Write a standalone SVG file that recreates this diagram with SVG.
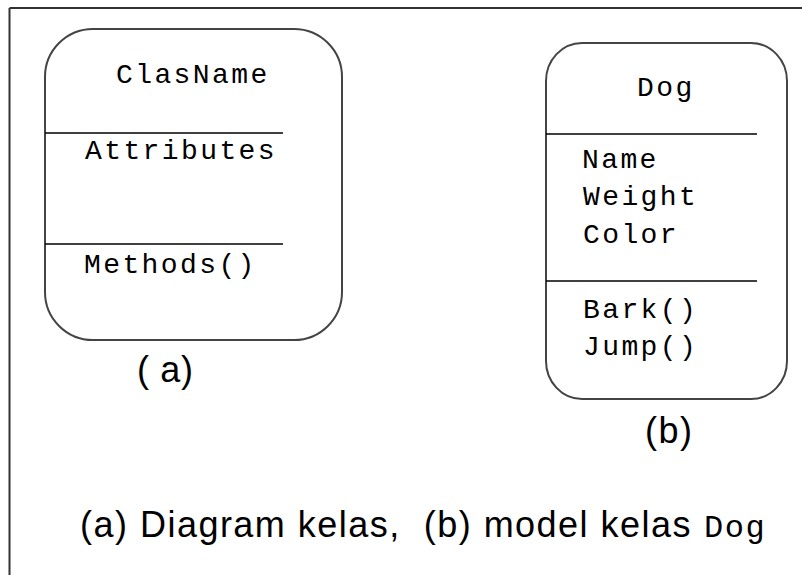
<svg xmlns="http://www.w3.org/2000/svg" width="802" height="575" viewBox="0 0 802 575">
<style>
.frame{stroke:#333;stroke-width:2;fill:none}
.box{fill:#fff;stroke:#444;stroke-width:2}
.div{stroke:#000;stroke-width:1.5}
.mono{font-family:"Liberation Mono","DejaVu Sans Mono",monospace;font-size:28px;letter-spacing:2.4px;fill:#000}
.sans{font-family:"Liberation Sans",Arial,sans-serif;font-size:36px;fill:#000}
</style>
<rect x="0" y="0" width="802" height="575" fill="#fff"/>
<g id="frame">
<line class="frame" x1="9.5" y1="8" x2="802" y2="8"/>
<line class="frame" x1="9.5" y1="8" x2="9.5" y2="575"/>
</g>
<g id="class-a">
<rect class="box" x="45" y="29" width="297" height="311" rx="48" ry="48"/>
<line class="div" x1="45" y1="133" x2="283" y2="133"/>
<line class="div" x1="45" y1="244" x2="283" y2="244"/>
<text class="mono" x="116" y="83">ClasName</text>
<text class="mono" x="85" y="159">Attributes</text>
<text class="mono" x="84" y="273">Methods()</text>
<text class="sans" x="137" y="382" xml:space="preserve" textLength="56" lengthAdjust="spacing">( a)</text>
</g>
<g id="class-b">
<rect class="box" x="546" y="43" width="241" height="356" rx="36" ry="38"/>
<line class="div" x1="546" y1="134" x2="757" y2="134"/>
<line class="div" x1="546" y1="281" x2="757" y2="281"/>
<text class="mono" x="637" y="96">Dog</text>
<text class="mono" x="582" y="168">Name</text>
<text class="mono" x="583" y="205">Weight</text>
<text class="mono" x="583" y="243">Color</text>
<text class="mono" x="583" y="318">Bark()</text>
<text class="mono" x="583" y="355">Jump()</text>
<text class="sans" x="645" y="443" textLength="47" lengthAdjust="spacing">(b)</text>
</g>
<g id="connectors"></g>
<g id="caption">
<text class="sans" x="80" y="537" xml:space="preserve" textLength="622" lengthAdjust="spacing">(a) Diagram kelas,  (b) model kelas </text>
<text class="mono" x="704" y="537" style="font-size:32px;letter-spacing:1.5px">Dog</text>
</g>
</svg>
